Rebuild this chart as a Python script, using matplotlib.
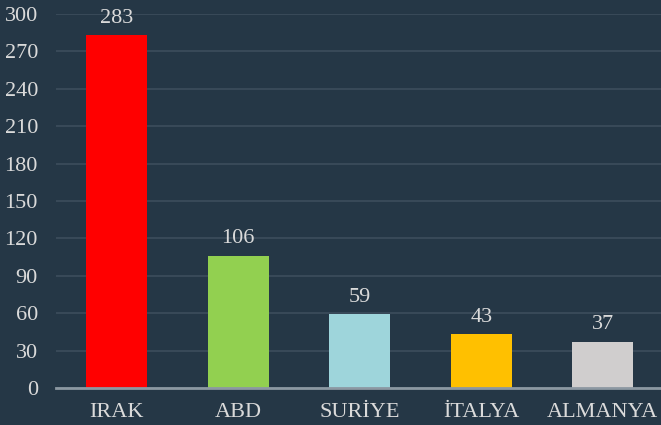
import matplotlib
matplotlib.use("Agg")
import matplotlib.pyplot as plt

categories = ["IRAK", "ABD", "SURİYE", "İTALYA", "ALMANYA"]
values = [283, 106, 59, 43, 37]
colors = ["#FF0000", "#92D050", "#9ED5DB", "#FFC000", "#D0CECE"]
yticks = [0, 30, 60, 90, 120, 150, 180, 210, 240, 270, 300]

bg = "#253746"
txt = "#DADADA"

plt.rcParams['font.family'] = ['Liberation Serif', 'DejaVu Serif']

fig = plt.figure(figsize=(6.61, 4.25), dpi=100, facecolor=bg)
W, H = 661, 425
ax = fig.add_axes([56 / W, (H - 388) / H, 607.5 / W, 374 / H])
ax.set_facecolor(bg)

x = range(len(categories))
bars = ax.bar(x, values, width=0.5, color=colors, zorder=3)
for xi, v in zip(x, values):
    ax.text(xi, v + 6, str(v), ha='center', va='bottom', color=txt, fontsize=16)

ax.set_xlim(-0.5, len(categories) - 0.5)
ax.set_ylim(0, 300)
ax.set_yticks(yticks)
ax.set_yticklabels([str(t) for t in yticks])
ax.set_xticks(list(x))
ax.set_xticklabels(categories)
ax.tick_params(axis='both', length=0, colors=txt, labelsize=16)
ax.tick_params(axis='y', pad=13)
ax.tick_params(axis='x', pad=11)
ax.yaxis.grid(True, color="#3B4C5B", linewidth=1.3, zorder=0)
ax.set_axisbelow(True)
for s in ['top', 'right', 'left']:
    ax.spines[s].set_visible(False)
ax.spines['bottom'].set_color("#8C98A2")
ax.spines['bottom'].set_linewidth(2)
ax.spines['bottom'].set_zorder(4)

fig.savefig("out.png", dpi=100, facecolor=bg)
